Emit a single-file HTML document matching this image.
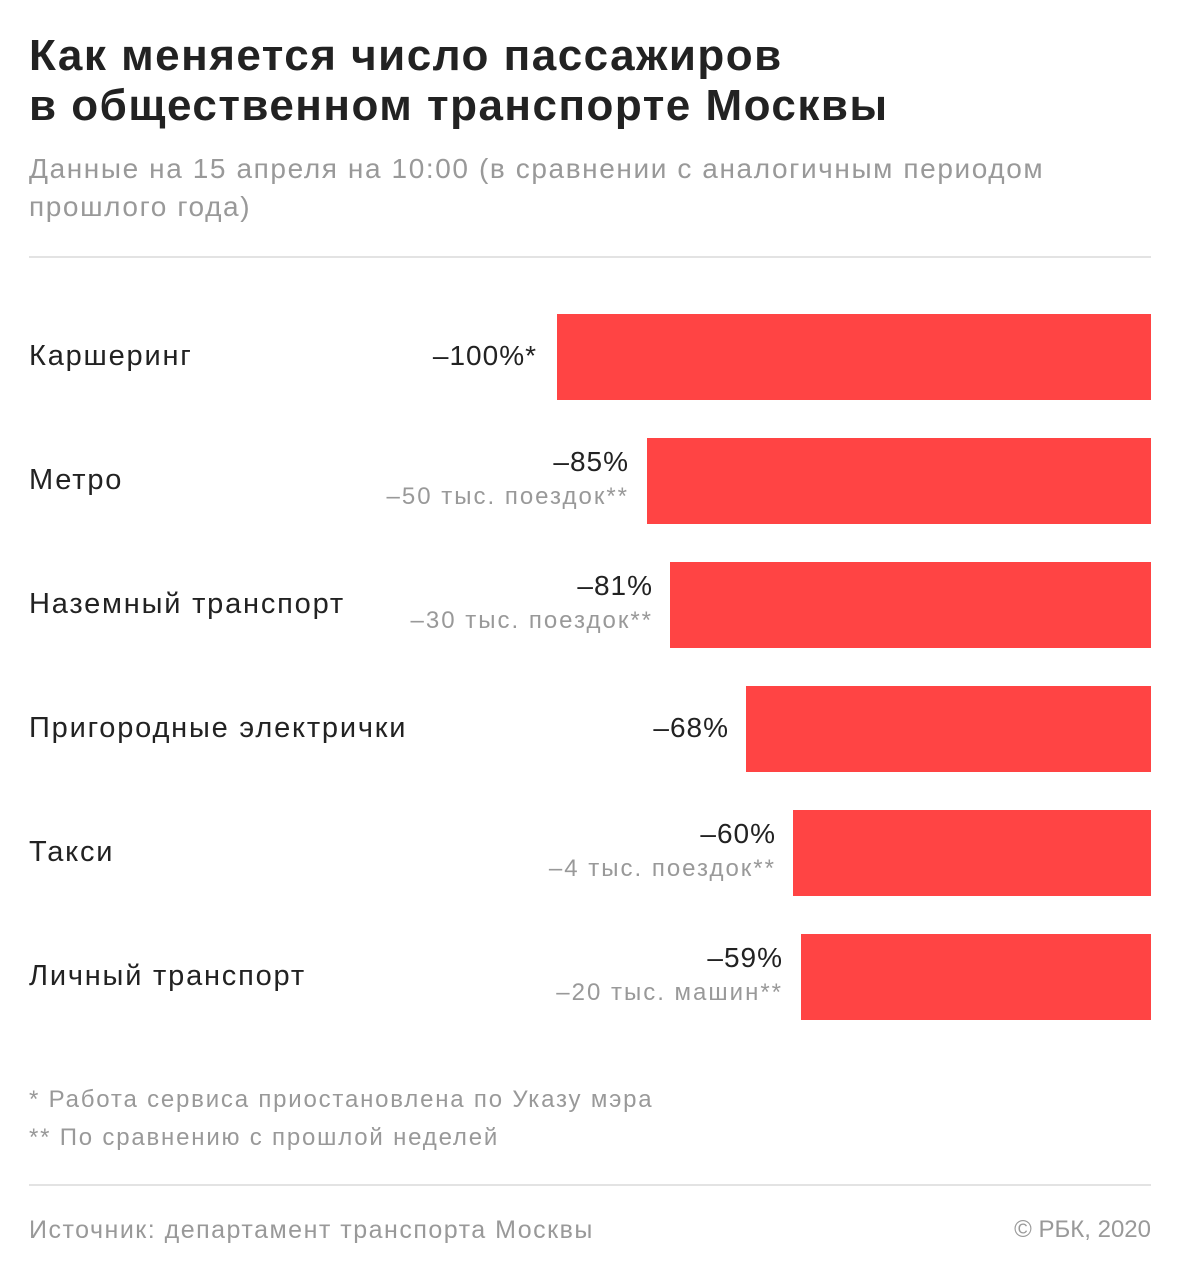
<!DOCTYPE html>
<html><head><meta charset="utf-8"><style>
body{margin:0;width:1180px;height:1280px;background:#fff;font-family:"Liberation Sans",sans-serif;position:relative;overflow:hidden}
.a{position:absolute;white-space:nowrap}
.t{left:29px;font-size:44px;font-weight:bold;color:#222;letter-spacing:1.5px}
.s{left:29px;font-size:28px;color:#999;letter-spacing:1.6px}
.hr{position:absolute;left:29px;width:1122px;height:2px;background:#e3e3e3}
.bar{position:absolute;right:29px;height:86px;background:#ff4444}
.lab{left:29px;font-size:29px;color:#222;letter-spacing:1.8px}
.v{font-size:28px;color:#222;text-align:right;letter-spacing:1px}
.sub{font-size:24px;color:#999;text-align:right;letter-spacing:2px}
.f{left:29px;font-size:24px;color:#999;letter-spacing:1.8px}
</style></head><body>
<div class="a t" style="top:31px">Как меняется число пассажиров</div>
<div class="a t" style="top:81px">в общественном транспорте Москвы</div>
<div class="a s" style="top:153px">Данные на 15 апреля на 10:00 (в сравнении с аналогичным периодом</div>
<div class="a s" style="top:191px">прошлого года)</div>
<div class="hr" style="top:256px"></div>

<div class="bar" style="top:314px;left:557px"></div>
<div class="a lab" style="top:340px">Каршеринг</div>
<div class="a v" style="top:340px;right:643px">–100%*</div>

<div class="bar" style="top:438px;left:647px"></div>
<div class="a lab" style="top:464px">Метро</div>
<div class="a v" style="top:446px;right:551px">–85%</div>
<div class="a sub" style="top:483px;right:551px">–50 тыс. поездок**</div>

<div class="bar" style="top:562px;left:670px"></div>
<div class="a lab" style="top:588px">Наземный транспорт</div>
<div class="a v" style="top:570px;right:527px">–81%</div>
<div class="a sub" style="top:607px;right:527px">–30 тыс. поездок**</div>

<div class="bar" style="top:686px;left:746px"></div>
<div class="a lab" style="top:712px">Пригородные электрички</div>
<div class="a v" style="top:712px;right:451px">–68%</div>

<div class="bar" style="top:810px;left:793px"></div>
<div class="a lab" style="top:836px">Такси</div>
<div class="a v" style="top:818px;right:404px">–60%</div>
<div class="a sub" style="top:855px;right:404px">–4 тыс. поездок**</div>

<div class="bar" style="top:934px;left:801px"></div>
<div class="a lab" style="top:960px">Личный транспорт</div>
<div class="a v" style="top:942px;right:397px">–59%</div>
<div class="a sub" style="top:979px;right:397px">–20 тыс. машин**</div>

<div class="a f" style="top:1086px">* Работа сервиса приостановлена по Указу мэра</div>
<div class="a f" style="top:1124px">** По сравнению с прошлой неделей</div>
<div class="hr" style="top:1184px"></div>
<div class="a f" style="top:1216px;font-size:25px;letter-spacing:1.5px">Источник: департамент транспорта Москвы</div>
<div class="a f" style="top:1216px;left:auto;right:29px;font-size:24px;letter-spacing:0">© РБК, 2020</div>
</body></html>
